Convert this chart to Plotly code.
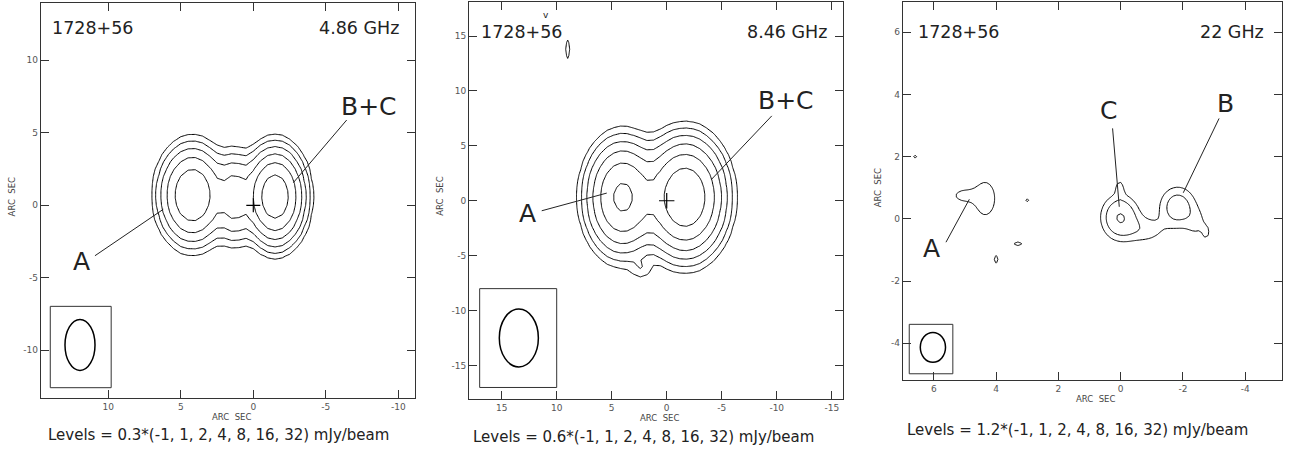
import numpy as np
import plotly.graph_objects as go

W, H = 1294, 455
FONT = "DejaVu Sans"

# contour multipliers shared by the three maps
level_mult = [-1, 1, 2, 4, 8, 16, 32]

# ---- 4.86 GHz map: Gaussian components (arcsec offsets, mJy/beam, sigma in arcsec)
m1_base = 0.3
m1_cx = [4.2, -1.5, 1.3]
m1_cy = [0.7, 0.6, 0.55]
m1_peak = [8.9, 15.6, 3.45]
m1_sx = [1.07, 0.93, 0.67]
m1_sy = [1.6, 1.52, 1.55]
m1_beam = [2.07, 3.52]          # FWHM (x, y) arcsec

# ---- 8.46 GHz map
m2_base = 0.6
m2_cx = [4.0, -1.67, 2.3, 9.0]
m2_cy = [0.32, 0.32, -6.2, 13.8]
m2_peak = [22.2, 34.8, 0.9, 0.86]
m2_sx = [1.54, 1.65, 0.6, 0.15]
m2_sy = [2.4, 2.43, 0.6, 1.0]
m2_beam = [3.55, 5.27]

# ---- 22 GHz map
m3_base = 1.2
m3_cx = [0.02, -1.83, -0.8, 0.03, -2.45, -2.75, 4.35, 5.05, 6.6, 3.0, 3.3, 4.0]
m3_cy = [0.05, 0.38, -0.36, 1.0, -0.15, -0.45, 0.65, 0.75, 2.0, 0.6, -0.8, -1.3]
m3_peak = [4.92, 3.6, 1.74, 1.56, 1.26, 1.2, 2.04, 1.56, 1.8, 1.8, 2.4, 2.4]
m3_sx = [0.37, 0.38, 0.45, 0.1, 0.25, 0.1, 0.29, 0.33, 0.06, 0.06, 0.1, 0.05]
m3_sy = [0.44, 0.43, 0.3, 0.2, 0.35, 0.2, 0.5, 0.2, 0.06, 0.06, 0.05, 0.1]
m3_beam = [0.81, 0.96]

phase_center = [0.0, 0.0]


def grid(lo, hi, step):
    return np.round(np.arange(lo, hi + step / 2, step), 4)


def model_map(xs, ys, cx, cy, peak, sx, sy):
    X, Y = np.meshgrid(xs, ys)
    Z = np.zeros_like(X)
    for x0, y0, p, a, b in zip(cx, cy, peak, sx, sy):
        Z += p * np.exp(-((X - x0) ** 2 / (2 * a * a) + (Y - y0) ** 2 / (2 * b * b)))
    return Z


panels = [
    dict(xs=grid(-11.0, 14.5, 0.5), ys=grid(-13.0, 13.5, 0.5),
         comps=(m1_cx, m1_cy, m1_peak, m1_sx, m1_sy), base=m1_base,
         xr=[14.66, -11.15], yr=[-13.27, 13.95], px=(40.7, 415.0), py=(3.0, 397.7),
         ticks=[10, 5, 0, -5, -10]),
    dict(xs=grid(-16.2, 18.0, 0.6), ys=grid(-18.0, 18.0, 0.6),
         comps=(m2_cx, m2_cy, m2_peak, m2_sx, m2_sy), base=m2_base,
         xr=[17.97, -16.05], yr=[-18.05, 18.1], px=(469.0, 843.3), py=(2.0, 399.0),
         ticks=[15, 10, 5, 0, -5, -10, -15]),
    dict(xs=grid(-5.2, 7.0, 0.1), ys=grid(-5.2, 7.0, 0.1),
         comps=(m3_cx, m3_cy, m3_peak, m3_sx, m3_sy), base=m3_base,
         xr=[7.0, -5.19], yr=[-5.18, 6.99], px=(902.7, 1282.3), py=(1.5, 380.0),
         ticks=[6, 4, 2, 0, -2, -4]),
]

fig = go.Figure()
layout = dict(width=W, height=H, margin=dict(l=0, r=0, t=0, b=0),
              paper_bgcolor="white", plot_bgcolor="white", showlegend=False,
              font=dict(family=FONT, color="#222"))

for i, p in enumerate(panels, start=1):
    xa = "x" if i == 1 else f"x{i}"
    ya = "y" if i == 1 else f"y{i}"
    Z = model_map(p["xs"], p["ys"], *p["comps"])
    for m in level_mult:
        lev = m * p["base"]
        fig.add_trace(go.Contour(
            x=p["xs"], y=p["ys"], z=Z, xaxis=xa, yaxis=ya,
            autocontour=False,
            contours=dict(start=lev, end=lev, size=abs(lev), coloring="none",
                          showlabels=False),
            line=dict(color="black", width=1, smoothing=0,
                      dash="dash" if m < 0 else "solid"),
            showscale=False, hoverinfo="skip"))
    axis_common = dict(showline=True, linecolor="#333", linewidth=1, mirror="ticks",
                       ticks="inside", ticklen=8, tickwidth=1, tickcolor="#333",
                       showgrid=False, zeroline=False,
                       tickfont=dict(family=FONT, size=9, color="#555"),
                       tickvals=p["ticks"], ticktext=[str(t) for t in p["ticks"]])
    layout["xaxis" if i == 1 else f"xaxis{i}"] = dict(
        axis_common, domain=[p["px"][0] / W, p["px"][1] / W], range=p["xr"],
        anchor=ya)
    layout["yaxis" if i == 1 else f"yaxis{i}"] = dict(
        axis_common, domain=[1 - p["py"][1] / H, 1 - p["py"][0] / H], range=p["yr"],
        anchor=xa)

# phase-centre crosses on the two lower-frequency maps
for xa, ya, sz in [("x", "y", 10), ("x2", "y2", 11)]:
    fig.add_trace(go.Scatter(x=[phase_center[0]], y=[phase_center[1]], xaxis=xa, yaxis=ya,
                             mode="markers", hoverinfo="skip",
                             marker=dict(symbol="cross-thin", size=sz,
                                         line=dict(color="black", width=1.2))))

shapes = []
# restoring-beam boxes and ellipses
beam_boxes = [
    ("x", "y", (9.8, 14.0, -12.58, -6.97), (11.95, -9.63), m1_beam),
    ("x2", "y2", (10.0, 17.0, -17.0, -8.0), (13.44, -12.49), m2_beam),
    ("x3", "y3", (5.39, 6.79, -4.98, -3.39), (6.03, -4.13), m3_beam),
]
for xa, ya, (x0, x1, y0, y1), (bx, by), (fx, fy) in beam_boxes:
    shapes.append(dict(type="rect", xref=xa, yref=ya, x0=x0, x1=x1, y0=y0, y1=y1,
                       line=dict(color="#333", width=1)))
    shapes.append(dict(type="circle", xref=xa, yref=ya, x0=bx - fx / 2, x1=bx + fx / 2,
                       y0=by - fy / 2, y1=by + fy / 2, line=dict(color="black", width=1.5)))

# leader lines from component labels
leaders = [
    ("x", "y", (10.92, -3.48), (6.21, -0.28)),
    ("x", "y", (-6.44, 5.88), (-2.76, 1.56)),
    ("x2", "y2", (11.36, -0.91), (5.45, 0.70)),
    ("x2", "y2", (-9.55, 7.73), (-4.09, 1.97)),
    ("x3", "y3", (0.26, 2.91), (0.045, 0.39)),
    ("x3", "y3", (-3.16, 3.23), (-2.01, 0.84)),
    ("x3", "y3", (5.61, -0.75), (4.86, 0.63)),
]
for xa, ya, (x0, y0), (x1, y1) in leaders:
    shapes.append(dict(type="line", xref=xa, yref=ya, x0=x0, y0=y0, x1=x1, y1=y1,
                       line=dict(color="#222", width=1)))
layout["shapes"] = shapes


def note(text, x, y, size, xanchor="center", color="#222", angle=0):
    return dict(text=text, x=x / W, y=1 - y / H, xref="paper", yref="paper",
                xanchor=xanchor, yanchor="middle", showarrow=False, textangle=angle,
                font=dict(family=FONT, size=size, color=color))


freqs = ["4.86 GHz", "8.46 GHz", "22 GHz"]
levels_txt = [f"Levels = {b}*({', '.join(str(m) for m in level_mult)}) mJy/beam"
              for b in (m1_base, m2_base, m3_base)]
ann = [
    note("1728+56", 50, 28, 17.5, "left"), note(freqs[0], 401, 28, 17.5, "right"),
    note("1728+56", 479.3, 31.7, 17.5, "left"), note(freqs[1], 829, 32, 17.5, "right"),
    note("1728+56", 916, 31.7, 17.5, "left"), note(freqs[2], 1266, 32, 17.5, "right"),
    note("B+C", 369.2, 106, 25), note("A", 81, 261.7, 25),
    note("B+C", 785.5, 100, 25), note("A", 527, 213.3, 25),
    note("C", 1108.3, 110, 25), note("B", 1225.7, 103.3, 25), note("A", 931.7, 248.3, 25),
    note(levels_txt[0], 46, 435, 15, "left"),
    note(levels_txt[1], 470.7, 436.7, 15, "left"),
    note(levels_txt[2], 905, 430, 15, "left"),
    note("ARC  SEC", 231, 416.7, 8.5, color="#444"),
    note("ARC  SEC", 659.3, 417.7, 8.5, color="#444"),
    note("ARC  SEC", 1095, 399, 8.5, color="#444"),
    note("ARC  SEC", 11.7, 196.7, 8.5, color="#444", angle=-90),
    note("ARC  SEC", 440, 196.7, 8.5, color="#444", angle=-90),
    note("ARC  SEC", 878, 188.3, 8.5, color="#444", angle=-90),
    note("v", 546, 15, 9),
]
layout["annotations"] = ann

fig.update_layout(**layout)
fig.write_html("out.html")
